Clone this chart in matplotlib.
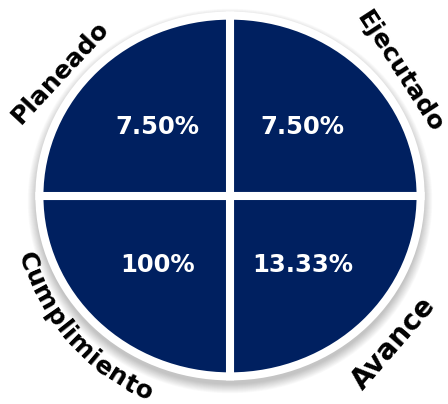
import matplotlib.pyplot as plt
from matplotlib.patches import Ellipse
import numpy as np

# quadrants clockwise from the top-right one
names = ["Ejecutado", "Avance", "Cumplimiento", "Planeado"]
pct_labels = ["7.50%", "13.33%", "100%", "7.50%"]
shares = [1, 1, 1, 1]

navy = "#002060"
W, H = 448, 404
cx, cy = 230, 196          # pie centre in pixels (from top-left)
rx, ry = 186.5, 176.5      # navy radii in pixels

fig = plt.figure(figsize=(W / 100, H / 100), dpi=100)
ax = fig.add_axes([0, 0, 1, 1])


def px(x, y):
    # pixel position -> data (unit ellipse) coordinates
    return (x - cx) / rx, (cy - y) / ry


# soft shadow + white rim
for i in range(12):
    g = 7 + i * 0.8
    ax.add_patch(Ellipse((0, -5 / ry), 2 * (rx + g) / rx, 2 * (ry + g) / ry,
                         fc="black", alpha=0.02, lw=0, zorder=0))
ax.add_patch(Ellipse((0, 0), 2 * (rx + 6) / rx, 2 * (ry + 6) / ry,
                     fc="white", lw=0, zorder=1))

wedges, texts = ax.pie(shares, labels=pct_labels, startangle=90, counterclock=False,
                       radius=1.022, labeldistance=0.54, colors=[navy] * 4,
                       wedgeprops=dict(edgecolor="white", linewidth=5.8),
                       textprops=dict(color="white", fontsize=17.5, fontweight="bold",
                                      family="DejaVu Sans"))
for w in wedges:
    w.set_zorder(2)
for t in texts:
    t.set_ha("center")
    t.set_va("center")
    t.set_zorder(3)

lab_font = dict(fontweight="bold", family="DejaVu Sans", color="black")

# straight rotated labels
straight = {"Planeado": ((60, 72), 47, 18),
            "Ejecutado": ((400, 72), -57, 18),
            "Avance": ((394, 343), 49, 20)}
for name, ((x, y), rot, fs) in straight.items():
    ax.text(*px(x, y), name, rotation=rot, ha="center", va="center",
            rotation_mode="anchor", fontsize=fs, **lab_font)

# curved label along the lower-left arc
word = names[2]
R, mid = 213, np.deg2rad(222)
r = fig.canvas.get_renderer()
widths = []
for ch in word:
    t = ax.text(0, 0, ch, fontsize=18, **lab_font)
    widths.append(t.get_window_extent(renderer=r).width)
    t.remove()
widths = np.array(widths)
centres = np.cumsum(widths) - widths / 2
centres -= (centres[0] + centres[-1]) / 2
for ch, s in zip(word, centres):
    th = mid + s / R
    x, y = cx + R * np.cos(th), cy - R * np.sin(th)
    ax.text(*px(x, y), ch, rotation=np.rad2deg(th) + 90, ha="center", va="center",
            rotation_mode="anchor", fontsize=18, **lab_font)

ax.set_xlim(-cx / rx, (W - cx) / rx)
ax.set_ylim(-(H - cy) / ry, cy / ry)
ax.set_aspect("auto")
ax.axis("off")
fig.savefig("out.png", dpi=100)
